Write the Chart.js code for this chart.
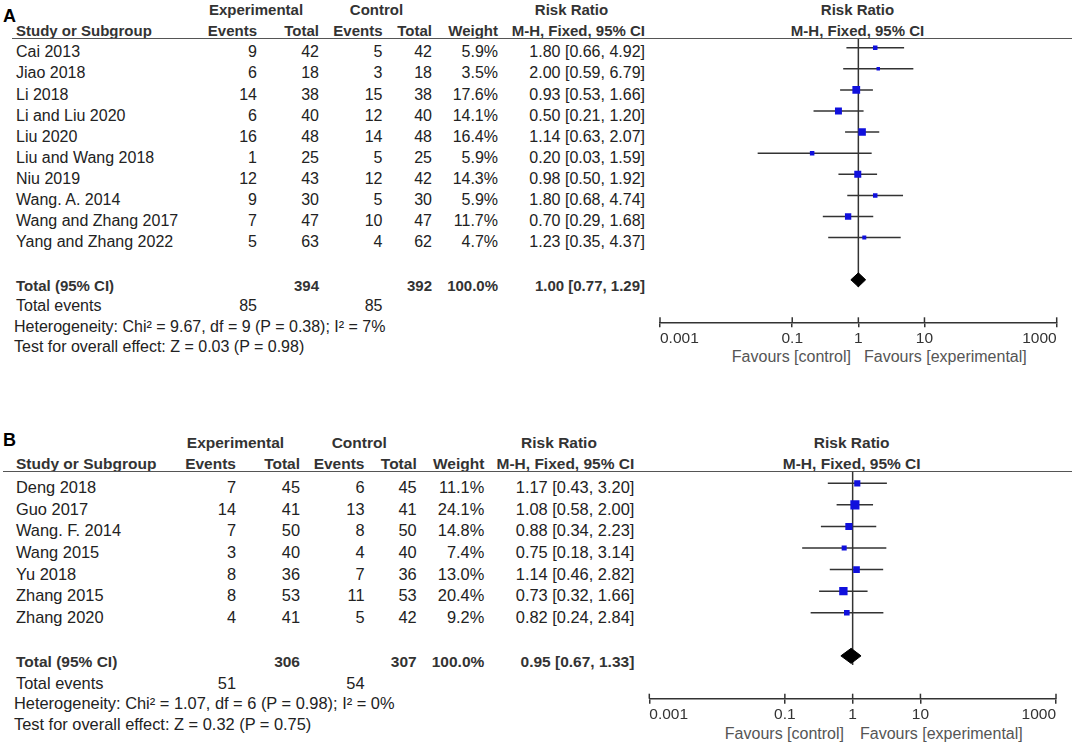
<!DOCTYPE html>
<html><head><meta charset="utf-8">
<script src="https://cdn.jsdelivr.net/npm/chart.js@4.4.1/dist/chart.umd.min.js"></script>
<style>
html,body{margin:0;padding:0;background:#fff;}
#page{position:relative;width:1072px;height:746px;overflow:hidden;font-family:"Liberation Sans",Arial,sans-serif;color:#222;}
.t{position:absolute;white-space:nowrap;line-height:1;}
.rule{position:absolute;height:0;border-top:1.5px solid #555;}
canvas{position:absolute;}
</style></head><body><div id="page"></div>
<script>
// ---------- data ----------
const tickValues = [0.001, 0.1, 1, 10, 1000];
const tickLabels = ["0.001", "0.1", "1", "10", "1000"];

const studiesA = ["Cai 2013","Jiao 2018","Li 2018","Li and Liu 2020","Liu 2020","Liu and Wang 2018","Niu 2019","Wang. A. 2014","Wang and Zhang 2017","Yang and Zhang 2022"];
const expEventsA = [9,6,14,6,16,1,12,9,7,5];
const expTotalA = [42,18,38,40,48,25,43,30,47,63];
const ctlEventsA = [5,3,15,12,14,5,12,5,10,4];
const ctlTotalA = [42,18,38,40,48,25,42,30,47,62];
const weightA = [5.9,3.5,17.6,14.1,16.4,5.9,14.3,5.9,11.7,4.7];
const rrA = [1.80,2.00,0.93,0.50,1.14,0.20,0.98,1.80,0.70,1.23];
const loA = [0.66,0.59,0.53,0.21,0.63,0.03,0.50,0.68,0.29,0.35];
const hiA = [4.92,6.79,1.66,1.20,2.07,1.59,1.92,4.74,1.68,4.37];
const totalsA = [394, 392];          // experimental total, control total
const totalEventsA = [85, 85];
const pooledA = [1.00, 0.77, 1.29];  // RR, lower, upper
const hetA = "Heterogeneity: Chi\u00B2 = 9.67, df = 9 (P = 0.38); I\u00B2 = 7%";
const testA = "Test for overall effect: Z = 0.03 (P = 0.98)";

const studiesB = ["Deng 2018","Guo 2017","Wang. F. 2014","Wang 2015","Yu 2018","Zhang 2015","Zhang 2020"];
const expEventsB = [7,14,7,3,8,8,4];
const expTotalB = [45,41,50,40,36,53,41];
const ctlEventsB = [6,13,8,4,7,11,5];
const ctlTotalB = [45,41,50,40,36,53,42];
const weightB = [11.1,24.1,14.8,7.4,13.0,20.4,9.2];
const rrB = [1.17,1.08,0.88,0.75,1.14,0.73,0.82];
const loB = [0.43,0.58,0.34,0.18,0.46,0.32,0.24];
const hiB = [3.20,2.00,2.23,3.14,2.82,1.66,2.84];
const totalsB = [306, 307];
const totalEventsB = [51, 54];
const pooledB = [0.95, 0.67, 1.33];
const hetB = "Heterogeneity: Chi\u00B2 = 1.07, df = 6 (P = 0.98); I\u00B2 = 0%";
const testB = "Test for overall effect: Z = 0.32 (P = 0.75)";

// ---------- layout ----------
const LA = {
  label:"A", labelX:3, labelY:15.5,
  grpY:9.5, colY:30, ruleY:38.7, ruleX0:12,
  rowY0:52.3, rowStep:21.1, totalY:285.5, eventsY:306, hetY:326.5, testY:346.5,
  nameX:16,
  cols:{expE:257, expT:319, ctlE:382.5, ctlT:432, w:498, ci:645},
  grp:{exp:256, ctl:376.5, rr:571.5, plot:857.5},
  fsR:16, fsB:15,
  plot:{left:660, right:1056.7, top:38.7, axisY:322.3, markY0:47.7, markStep:21.1,
        diamondRow:11, diamondHalf:0.33, nullEnd:11.34, favY:356.7, favCtlRight:851, favExpLeft:864},
  canvas:{x:640, y:0, w:432, h:372}
};
const LB = {
  label:"B", labelX:3, labelY:440,
  grpY:442.7, colY:464, ruleY:471.5, ruleX0:3,
  rowY0:487.3, rowStep:21.67, totalY:661.7, eventsY:682.7, hetY:702.7, testY:724,
  nameX:16,
  cols:{expE:236, expT:300, ctlE:364.5, ctlT:416.7, w:484.3, ci:634.3},
  grp:{exp:235.5, ctl:359.2, rr:559, plot:851.7},
  fsR:16.4, fsB:15.5,
  plot:{left:649.3, right:1056, top:471.5, axisY:698.7, markY0:483.3, markStep:21.57,
        diamondRow:8, diamondHalf:0.35, nullEnd:8.42, favY:734.3, favCtlRight:844, favExpLeft:860},
  canvas:{x:620, y:420, w:452, h:326}
};

const page = document.getElementById('page');
function txt(s, x, y, align, fs, bold, color) {
  const d = document.createElement('div');
  d.className = 't';
  d.textContent = s;
  d.style.fontSize = fs + 'px';
  if (bold) d.style.fontWeight = 'bold';
  if (color) d.style.color = color;
  d.style.top = (y - fs * 0.5) + 'px';
  if (align === 'left') d.style.left = x + 'px';
  else if (align === 'right') d.style.right = (1072 - x) + 'px';
  else { d.style.left = x + 'px'; d.style.transform = 'translateX(-50%)'; }
  page.appendChild(d);
}
function fmtCI(r, l, h) { return r.toFixed(2) + ' [' + l.toFixed(2) + ', ' + h.toFixed(2) + ']'; }

const upTicks = {
  id: 'upTicks',
  afterDraw(chart) {
    const s = chart.scales.x, ctx = chart.ctx;
    ctx.save();
    ctx.strokeStyle = '#333'; ctx.lineWidth = 1.5;
    s.ticks.forEach(t => {
      const x = s.getPixelForValue(t.value);
      ctx.beginPath(); ctx.moveTo(x, s.top - 5); ctx.lineTo(x, s.top); ctx.stroke();
    });
    ctx.restore();
  }
};

function panel(L, D) {
  const c = L.cols, g = L.grp, fr = L.fsR, fb = L.fsB, pl = L.plot;
  txt(L.label, L.labelX, L.labelY, 'left', 18, true, '#000');
  txt("Experimental", g.exp, L.grpY, 'center', fb, true, '#333');
  txt("Control", g.ctl, L.grpY, 'center', fb, true, '#333');
  txt("Risk Ratio", g.rr, L.grpY, 'center', fb, true, '#333');
  txt("Risk Ratio", g.plot, L.grpY, 'center', fb, true, '#333');
  txt("Study or Subgroup", L.nameX, L.colY, 'left', fb, true, '#333');
  txt("Events", c.expE, L.colY, 'right', fb, true, '#333');
  txt("Total", c.expT, L.colY, 'right', fb, true, '#333');
  txt("Events", c.ctlE, L.colY, 'right', fb, true, '#333');
  txt("Total", c.ctlT, L.colY, 'right', fb, true, '#333');
  txt("Weight", c.w, L.colY, 'right', fb, true, '#333');
  txt("M-H, Fixed, 95% CI", c.ci, L.colY, 'right', fb, true, '#333');
  txt("M-H, Fixed, 95% CI", g.plot, L.colY, 'center', fb, true, '#333');
  const r = document.createElement('div');
  r.className = 'rule';
  r.style.left = L.ruleX0 + 'px'; r.style.width = (1072 - L.ruleX0) + 'px'; r.style.top = (L.ruleY - 0.75) + 'px';
  page.appendChild(r);

  D.names.forEach((n, i) => {
    const y = L.rowY0 + i * L.rowStep;
    txt(n, L.nameX, y, 'left', fr);
    txt(String(D.expE[i]), c.expE, y, 'right', fr);
    txt(String(D.expT[i]), c.expT, y, 'right', fr);
    txt(String(D.ctlE[i]), c.ctlE, y, 'right', fr);
    txt(String(D.ctlT[i]), c.ctlT, y, 'right', fr);
    txt(D.w[i].toFixed(1) + '%', c.w, y, 'right', fr);
    txt(fmtCI(D.rr[i], D.lo[i], D.hi[i]), c.ci, y, 'right', fr);
  });
  txt("Total (95% CI)", L.nameX, L.totalY, 'left', fb, true, '#333');
  txt(String(D.totals[0]), c.expT, L.totalY, 'right', fb, true, '#333');
  txt(String(D.totals[1]), c.ctlT, L.totalY, 'right', fb, true, '#333');
  txt("100.0%", c.w, L.totalY, 'right', fb, true, '#333');
  txt(fmtCI(D.pooled[0], D.pooled[1], D.pooled[2]), c.ci, L.totalY, 'right', fb, true, '#333');
  txt("Total events", L.nameX, L.eventsY, 'left', fr);
  txt(String(D.events[0]), c.expE, L.eventsY, 'right', fr);
  txt(String(D.events[1]), c.ctlE, L.eventsY, 'right', fr);
  txt(D.het, L.nameX - 2, L.hetY, 'left', fr);
  txt(D.test, L.nameX - 2, L.testY, 'left', fr);
  txt("Favours [control]", pl.favCtlRight, pl.favY, 'right', 16, false, '#555');
  txt("Favours [experimental]", pl.favExpLeft, pl.favY, 'left', 16, false, '#555');

  // chart
  const cv = L.canvas;
  const can = document.createElement('canvas');
  can.width = cv.w; can.height = cv.h;
  can.style.left = cv.x + 'px'; can.style.top = cv.y + 'px';
  can.style.width = cv.w + 'px'; can.style.height = cv.h + 'px';
  page.appendChild(can);
  const axisH = 40;
  const yMin = (pl.top - pl.markY0) / pl.markStep;
  const yMax = (pl.axisY - pl.markY0) / pl.markStep;
  const ciSets = D.rr.map((v, i) => ({
    type: 'line', data: [{x: D.lo[i], y: i}, {x: D.hi[i], y: i}],
    borderColor: '#333', borderWidth: 1.5, pointRadius: 0, pointHoverRadius: 0, fill: false, order: 3
  }));
  const nullSet = {
    type: 'line', data: [{x: 1, y: yMin}, {x: 1, y: pl.nullEnd}],
    borderColor: '#333', borderWidth: 1.5, pointRadius: 0, pointHoverRadius: 0, fill: false, order: 4
  };
  const dr = pl.diamondRow, dh = pl.diamondHalf, P = D.pooled;
  const diamond = {
    type: 'line',
    data: [{x: P[1], y: dr}, {x: P[0], y: dr - dh}, {x: P[2], y: dr}, {x: P[0], y: dr + dh}, {x: P[1], y: dr}],
    borderColor: '#000', backgroundColor: '#000', borderWidth: 1, pointRadius: 0, pointHoverRadius: 0,
    fill: 'shape', tension: 0, order: 1
  };
  const markR = D.w.map(w => 1.85 * Math.sqrt(w) / Math.SQRT2);
  const pts = {
    type: 'scatter', data: D.rr.map((v, i) => ({x: v, y: i})),
    pointStyle: 'rect', pointRadius: markR, pointHoverRadius: markR,
    backgroundColor: '#1010dd', borderWidth: 0, order: 0
  };
  new Chart(can, {
    type: 'scatter',
    data: { datasets: [...ciSets, nullSet, diamond, pts] },
    options: {
      responsive: false, animation: false, events: [],
      layout: { padding: { left: pl.left - cv.x, right: cv.x + cv.w - pl.right, top: pl.top - cv.y,
                           bottom: cv.h - axisH - (pl.axisY - cv.y) } },
      plugins: { legend: { display: false }, tooltip: { enabled: false } },
      scales: {
        x: {
          type: 'logarithmic', min: tickValues[0], max: tickValues[tickValues.length - 1],
          afterBuildTicks: s => { s.ticks = tickValues.map(v => ({ value: v })); },
          afterFit: s => { s.height = axisH; },
          ticks: {
            callback: (v, i) => tickLabels[i], align: 'inner', autoSkip: false, maxRotation: 0,
            font: { family: '"Liberation Sans", Arial, sans-serif', size: 15.5 }, color: '#333', padding: 2
          },
          grid: { drawOnChartArea: false, drawTicks: true, tickLength: 5, color: '#333', lineWidth: 1.5 },
          border: { display: true, color: '#333', width: 1.5 }
        },
        y: { type: 'linear', min: yMin, max: yMax, reverse: true, display: false }
      }
    },
    plugins: [upTicks]
  });
}

panel(LA, { names: studiesA, expE: expEventsA, expT: expTotalA, ctlE: ctlEventsA, ctlT: ctlTotalA,
  w: weightA, rr: rrA, lo: loA, hi: hiA, totals: totalsA, events: totalEventsA, pooled: pooledA, het: hetA, test: testA });
panel(LB, { names: studiesB, expE: expEventsB, expT: expTotalB, ctlE: ctlEventsB, ctlT: ctlTotalB,
  w: weightB, rr: rrB, lo: loB, hi: hiB, totals: totalsB, events: totalEventsB, pooled: pooledB, het: hetB, test: testB });
</script></body></html>
